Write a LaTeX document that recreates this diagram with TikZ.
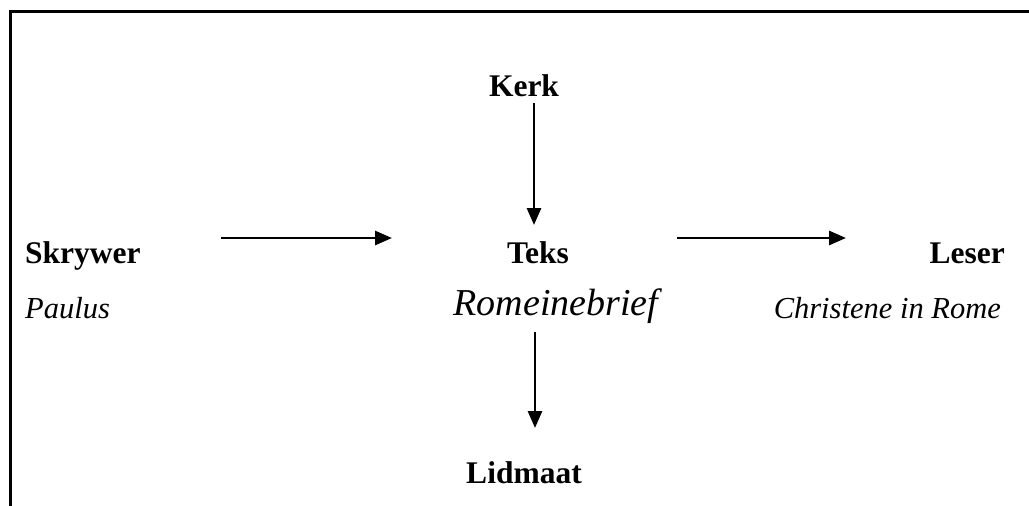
\documentclass[tikz,border=0pt]{standalone}
\usepackage{fontspec}
\setmainfont{Liberation Serif}
\usetikzlibrary{arrows.meta}
\begin{document}
\begin{tikzpicture}[x=1pt,y=-1pt,
  lbl/.style={inner sep=0pt},
  hd/.style={lbl,font=\fontsize{31.5}{36}\selectfont\bfseries},
  sub/.style={lbl,font=\fontsize{30.5}{36}\selectfont\itshape},
  bigsub/.style={lbl,font=\fontsize{38}{44}\selectfont\itshape},
  flow/.style={line width=2.8pt,-{Triangle[length=17pt,width=14pt]}},
  frame/.style={line width=3pt,line cap=rect}]
\useasboundingbox (0,0) rectangle (1029,506);
% open frame: top and left edges only
\draw[frame] (10.5,506) -- (10.5,11.5) -- (1029,11.5);
% labels
\node[hd,anchor=base]          (kerk)  at (524,96)  {Kerk};
\node[hd,anchor=base west]     (skr)   at (25,263)  {Skrywer};
\node[hd,anchor=base]          (teks)  at (538,263) {Teks};
\node[hd,anchor=base east]     (les)   at (1005,263){Leser};
\node[sub,anchor=base west]    (paul)  at (25,318)  {Paulus};
\node[bigsub,anchor=base]      (rom)   at (556,315) {Romeinebrief};
\node[sub,anchor=base east]    (chr)   at (1001,318){Christene in Rome};
\node[hd,anchor=base]          (lid)   at (524,483) {Lidmaat};
% arrow ends
\coordinate (k1) at (534,103);  \coordinate (k2) at (534,225);
\coordinate (s1) at (221,238);  \coordinate (s2) at (392,238);
\coordinate (t1) at (677,238);  \coordinate (t2) at (846,238);
\coordinate (r1) at (535,332);  \coordinate (r2) at (535,428);
% connectors
\draw[flow] (k1) -- (k2);
\draw[flow] (s1) -- (s2);
\draw[flow] (t1) -- (t2);
\draw[flow] (r1) -- (r2);
\end{tikzpicture}
\end{document}
